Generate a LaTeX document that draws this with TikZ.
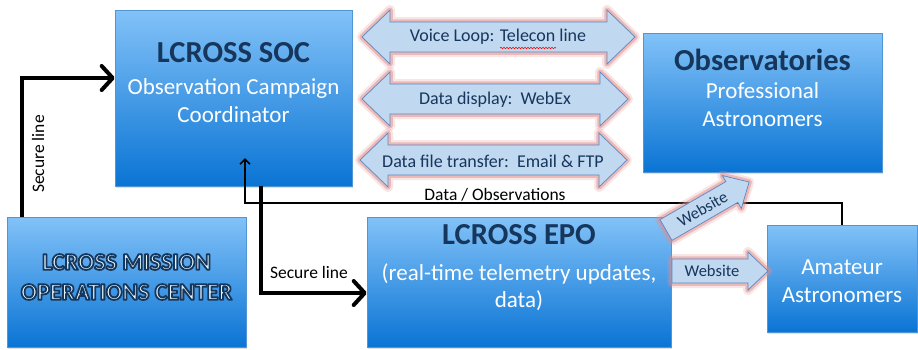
\documentclass[tikz,border=0pt]{standalone}
\usepackage{fontspec}
\setmainfont{Carlito}
\usetikzlibrary{arrows.meta,decorations.pathmorphing,shadows}
\definecolor{boxtop}{RGB}{130,194,248}
\definecolor{boxbot}{RGB}{10,116,212}
\definecolor{boxedge}{RGB}{80,150,215}
\definecolor{navy}{RGB}{22,54,92}
\definecolor{paletext}{RGB}{225,245,252}
\definecolor{arrfill}{RGB}{192,216,240}
\definecolor{arredge}{RGB}{95,135,190}
\definecolor{glow}{RGB}{226,140,140}
\newcommand{\outlined}[1]{\special{pdf:literal direct 2 Tr 1.8 w 1 j 0.086 0.212 0.361 RG}#1\special{pdf:literal direct 0 Tr}}
\tikzset{
  bluebox/.style={draw=boxedge, line width=0.6pt, top color=boxtop, bottom color=boxbot,
    inner sep=0pt, drop shadow={opacity=0.25, shadow xshift=1pt, shadow yshift=-1.5pt}},
  boxtitle/.style={font=\fontsize{30.5}{32}\selectfont\bfseries, text=navy, inner sep=0pt},
  boxsub/.style={font=\fontsize{23}{28}\selectfont, text=white, align=center, inner sep=0pt},
  fatarr/.style={draw=arredge, line width=0.7pt, fill=arrfill, line join=miter,
    preaction={draw=glow, line width=10pt, opacity=0.22, line join=round},
    preaction={draw=glow, line width=5.5pt, opacity=0.5, line join=round}},
  arrtext/.style={font=\fontsize{18}{20}\selectfont, text=navy, inner sep=0pt},
  webtext/.style={font=\fontsize{16.5}{18}\selectfont, text=navy, inner sep=0pt},
  secure/.style={line width=4pt, line join=miter, -{Straight Barb[length=11pt,width=24pt,round]}},
  dataline/.style={line width=1.7pt, line join=miter, -{Straight Barb[length=5pt,width=10pt]}},
  lbl/.style={font=\fontsize{17.5}{19}\selectfont, text=black, inner sep=0pt}
}
\newcommand{\fatdouble}[3]{%
  \path[fatarr] (#1,#3) -- ({#1+28},{#3-27}) -- ({#1+28},{#3-15}) -- ({#2-28},{#3-15})
    -- ({#2-28},{#3-27}) -- (#2,#3) -- ({#2-28},{#3+27}) -- ({#2-28},{#3+15})
    -- ({#1+28},{#3+15}) -- ({#1+28},{#3+27}) -- cycle;}
\newcommand{\fatsingle}{%
  \path[fatarr] (0,-12) -- (76,-12) -- (76,-19) -- (96,0) -- (76,19) -- (76,12) -- (0,12) -- cycle;}
\begin{document}
\begin{tikzpicture}[x=1pt, y=-1pt]
\useasboundingbox (0,0) rectangle (918,349);
\fill[white] (0,0) rectangle (918,349);

% boxes
\node[bluebox, minimum width=237pt, minimum height=176pt] (soc) at (233.5,98) {};
\node[bluebox, minimum width=239pt, minimum height=139pt] (obs) at (762.5,102.5) {};
\node[bluebox, minimum width=239pt, minimum height=130pt] (moc) at (126.5,282) {};
\node[bluebox, minimum width=304pt, minimum height=130pt] (epo) at (519,282) {};
\node[bluebox, minimum width=150pt, minimum height=107pt] (ama) at (842,278.5) {};

% box texts
\node[boxtitle] (soctitle) at (233.5,53) {LCROSS SOC};
\node[boxsub] (socsub) at (233.5,101) {Observation Campaign\\Coordinator};
\node[boxtitle] (obstitle) at (762.5,60) {Observatories};
\node[boxsub] (obssub) at (762.5,105) {Professional\\Astronomers};
\node[font=\fontsize{24}{30}\selectfont\bfseries, text=paletext, align=center, inner sep=0pt] (moctext) at (126.5,277)
  {\outlined{LCROSS MISSION}\\\outlined{OPERATIONS CENTER}};
\node[boxtitle] (epotitle) at (519,235) {LCROSS EPO};
\node[boxsub, font=\fontsize{23}{27}\selectfont] (eposub) at (519,287) {(real-time telemetry updates,\\data)};
\node[boxsub] (amasub) at (842,281) {Amateur\\Astronomers};

% fat double arrows
\fatdouble{362}{635}{37}
\fatdouble{362}{628}{99}
\fatdouble{360}{627}{160}
\node[arrtext] (voice) at (498,37) {Voice Loop: Telecon line};
\node[arrtext] (webex) at (495,100) {Data display:\ \ WebEx};
\node[arrtext] (files) at (493,161) {Data file transfer:\ \ Email \& FTP};
\draw[red, line width=0.6pt, decorate, decoration={snake, amplitude=0.7pt, segment length=3pt}]
  (500,48) -- (556,48);

% connectors
\coordinate (dtip) at (245,158);
\draw[dataline] (ama.north) -- ++(0,-22) -| (dtip);
\draw[secure] ([xshift=15pt]moc.north west) |- ([yshift=20pt]soc.west);
\draw[secure] ([xshift=27pt]soc.south) |- ([yshift=-11pt]epo.west);

% website arrows
\begin{scope}[shift={(672,271)}]
  \fatsingle
  \node[webtext] (web2) at (40,0) {Website};
\end{scope}
\begin{scope}[shift={(666,230)}, rotate=30]
  \fatsingle
  \node[webtext, transform shape] (web1) at (42,0) {Website};
\end{scope}

% labels
\node[lbl, rotate=90] (sec1) at (38,154) {Secure line};
\node[lbl] (sec2) at (309,272) {Secure line};
\node[lbl] (dobs) at (495,195) {Data / Observations};
\end{tikzpicture}
\end{document}
